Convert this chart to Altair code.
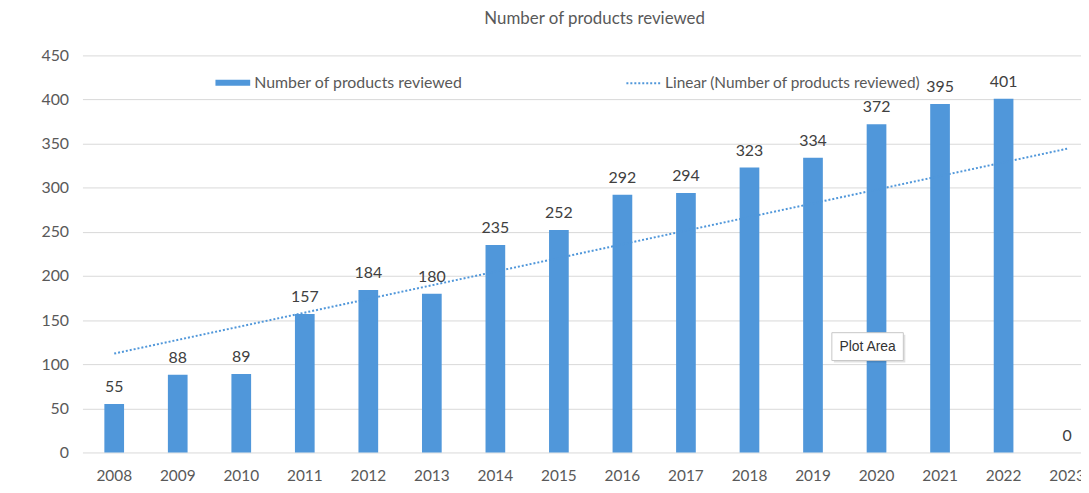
import altair as alt
import pandas as pd

years = [2008, 2009, 2010, 2011, 2012, 2013, 2014, 2015,
         2016, 2017, 2018, 2019, 2020, 2021, 2022, 2023]
values = [55, 88, 89, 157, 184, 180, 235, 252,
          292, 294, 323, 334, 372, 395, 401, 0]
series_name = "Number of products reviewed"
trend_name = "Linear (Number of products reviewed)"
note_year = [2020]
note_value = [120]
note_text = ["Plot Area"]
y_ticks = [0, 50, 100, 150, 200, 250, 300, 350, 400, 450]

BLUE = "#5097DA"
FONT = "Lato"
FS = 16

df = pd.DataFrame({"Year": years, "Value": values, "series": series_name})
note_df = pd.DataFrame({"Year": note_year, "Value": note_value, "label": note_text})

xenc = alt.X("Year:O",
             scale=alt.Scale(range=[0, 1024], paddingInner=0.69, paddingOuter=0.345),
             axis=alt.Axis(title=None, labelAngle=0, ticks=False, domain=False,
                           labelPadding=16, labelFontSize=15.5, labelColor="#595959",
                           labelFont=FONT, grid=False))
yenc = alt.Y("Value:Q",
             scale=alt.Scale(domain=[0, 450], nice=False),
             axis=alt.Axis(title=None, values=y_ticks, ticks=False, domain=False,
                           labelPadding=14, labelFontSize=FS, labelColor="#595959",
                           labelFont=FONT, gridColor="#d9d9d9", gridWidth=1))

base = alt.Chart(df)

bars = base.mark_bar(color=BLUE).encode(
    x=xenc, y=yenc,
    color=alt.Color("series:N",
                    scale=alt.Scale(domain=[series_name], range=[BLUE]),
                    legend=alt.Legend(title=None, orient="none", legendX=134, legendY=10,
                                      symbolType="M-1,-0.17H1V0.17H-1Z", symbolSize=1225,
                                      symbolStrokeWidth=0, labelOffset=4,
                                      labelFontSize=FS, labelFont=FONT,
                                      labelColor="#595959", labelLimit=400)),
)

labels = base.mark_text(baseline="alphabetic", dy=-12, fontSize=FS, font=FONT,
                        color="#404040").encode(
    x=alt.X("Year:O"), y=alt.Y("Value:Q"), text=alt.Text("Value:Q"))

trend = base.transform_regression("Year", "Value").transform_calculate(
    series=f"'{trend_name}'"
).mark_line(color=BLUE, strokeWidth=2).encode(
    x=alt.X("Year:O"), y=alt.Y("Value:Q"),
    strokeDash=alt.StrokeDash("series:N",
                              scale=alt.Scale(domain=[trend_name], range=[[2, 2]]),
                              legend=alt.Legend(title=None, orient="none", legendX=547,
                                                legendY=10, symbolType="stroke",
                                                symbolSize=1156, symbolStrokeColor=BLUE,
                                                symbolStrokeWidth=2, labelOffset=4,
                                                labelFontSize=15.5, labelFont=FONT,
                                                labelColor="#595959", labelLimit=400)),
)

note_base = alt.Chart(note_df)
shadow = note_base.mark_point(
    shape="M-1.194,-0.333H0.806V0.444H-1.194Z", size=5184, filled=True,
    fill="#000000", opacity=0.12, strokeWidth=0).encode(
    x=alt.X("Year:O"), y=alt.Y("Value:Q"))
box = note_base.mark_point(
    shape="M-1.25,-0.389H0.75V0.389H-1.25Z", size=5184, filled=True,
    fill="#ffffff", stroke="#c8c8c8", strokeWidth=1, opacity=1).encode(
    x=alt.X("Year:O"), y=alt.Y("Value:Q"))
note = note_base.mark_text(dx=-9, fontSize=14, font="Liberation Sans",
                           color="#333333", baseline="middle").encode(
    x=alt.X("Year:O"), y=alt.Y("Value:Q"), text="label:N")

chart = alt.layer(bars, trend, labels, shadow, box, note).properties(
    width=1000, height=400,
    title=alt.TitleParams(series_name, fontSize=17, font=FONT, color="#595959",
                          fontWeight="normal", anchor="middle", dx=16, offset=20),
    autosize=alt.AutoSizeParams(type="none"),
    padding={"left": 75, "top": 46, "right": 6, "bottom": 31},
).configure_view(stroke=None)

chart.save("out.html", embed_options={"renderer": "svg", "actions": False})
